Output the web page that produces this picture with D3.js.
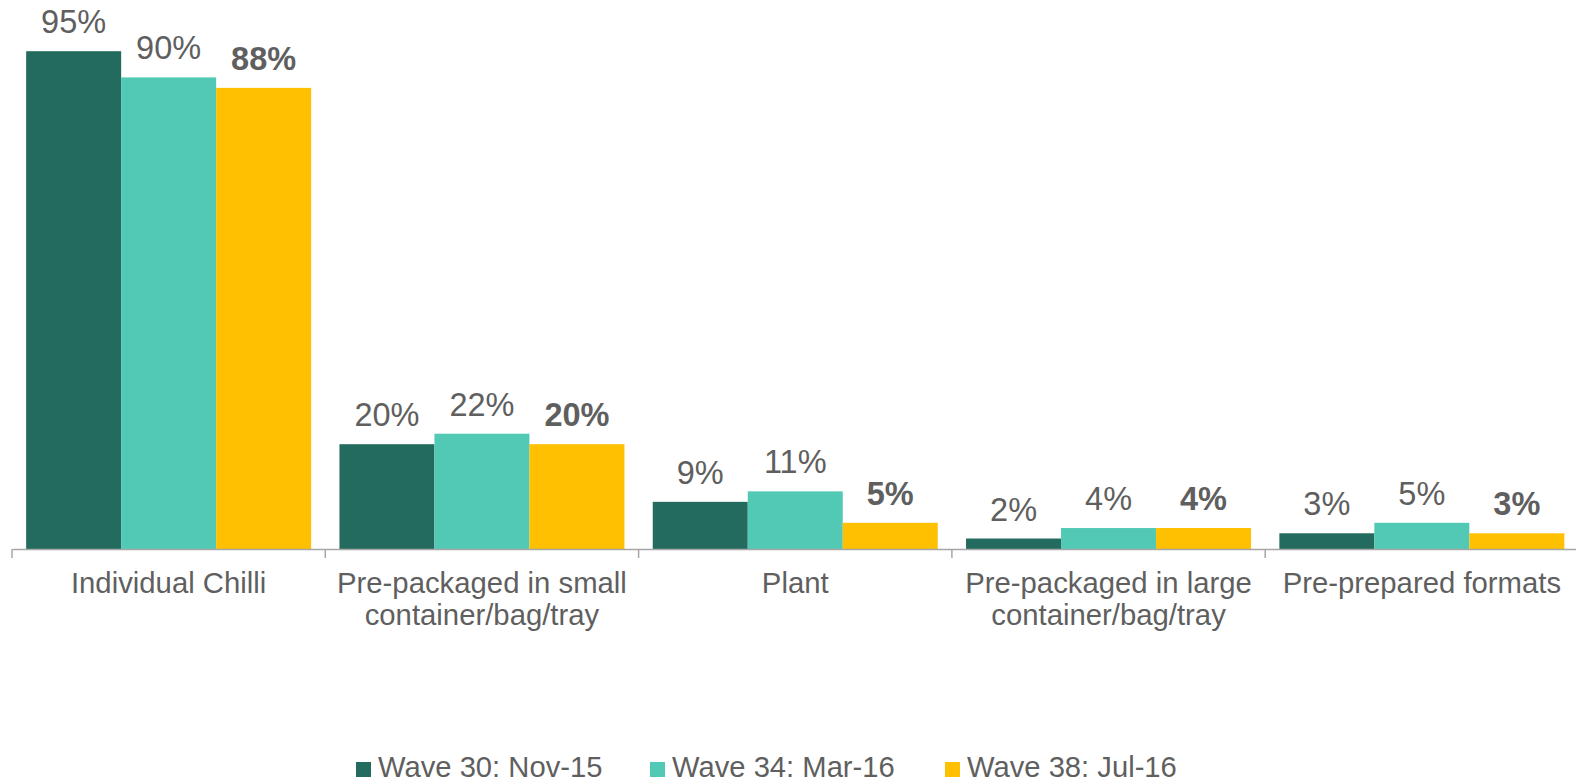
<!DOCTYPE html>
<html>
<head>
<meta charset="utf-8">
<script src="https://cdn.jsdelivr.net/npm/d3@7"></script>
<style>
  html, body { margin: 0; padding: 0; background: #fff; }
  svg { display: block; font-family: "Liberation Sans", Arial, sans-serif; }
</style>
</head>
<body>
<svg id="chart" width="1576" height="783"></svg>
<script>
// Purchase formats of chillies, by survey wave (% of buyers)
const categories = [
  ["Individual Chilli"],
  ["Pre-packaged in small", "container/bag/tray"],
  ["Plant"],
  ["Pre-packaged in large", "container/bag/tray"],
  ["Pre-prepared formats"]
];
const seriesNames = ["Wave 30: Nov-15", "Wave 34: Mar-16", "Wave 38: Jul-16"];
const wave30 = [95, 20, 9, 2, 3];
const wave34 = [90, 22, 11, 4, 5];
const wave38 = [88, 20, 5, 4, 3];
const seriesColors = ["#236b5e", "#52c9b4", "#fec000"];
const boldSeries = [false, false, true];

const seriesValues = [wave30, wave34, wave38];
const catKeys = categories.map(c => c.join(" "));

const svg = d3.select("#chart");
const textColor = "#5f5f5f";
const axisColor = "#a6a6a6";

const baseY = 549;
const x0 = d3.scaleBand().domain(catKeys).range([12, 1578.5]).paddingInner(0).paddingOuter(0);
const x1 = d3.scaleBand().domain(d3.range(seriesNames.length)).range([0, x0.bandwidth()])
  .paddingInner(0).paddingOuter(0.149);
const y = d3.scaleLinear().domain([0, 100]).range([baseY, 25]);

// Bars with value labels
const groups = svg.append("g").selectAll("g")
  .data(catKeys)
  .join("g")
  .attr("transform", d => `translate(${x0(d)},0)`);

groups.each(function(cat, ci) {
  const g = d3.select(this);
  seriesValues.forEach((vals, si) => {
    const v = vals[ci];
    g.append("rect")
      .attr("x", x1(si))
      .attr("y", y(v))
      .attr("width", x1.bandwidth())
      .attr("height", baseY - y(v))
      .attr("fill", seriesColors[si]);
    g.append("text")
      .attr("x", x1(si) + x1.bandwidth() / 2)
      .attr("y", y(v) - 18)
      .attr("text-anchor", "middle")
      .attr("font-size", 32.5)
      .attr("font-weight", boldSeries[si] ? "bold" : "normal")
      .attr("fill", textColor)
      .text(v + "%");
  });
});

// Category axis with ticks between groups
const axis = d3.axisBottom(x0).tickSize(0).tickFormat("");
const axisG = svg.append("g").attr("transform", `translate(0,${baseY})`).call(axis);
axisG.select(".domain").attr("stroke", axisColor).attr("stroke-width", 1.5);
const bounds = catKeys.map(c => x0(c)).concat([x0.range()[1]]);
axisG.selectAll("line.sep")
  .data(bounds)
  .join("line")
  .attr("class", "sep")
  .attr("x1", d => d).attr("x2", d => d)
  .attr("y1", 0).attr("y2", 9)
  .attr("stroke", axisColor)
  .attr("stroke-width", 1.5);

// Category labels (wrapped into lines)
const labelG = svg.append("g");
categories.forEach((lines, ci) => {
  const cx = x0(catKeys[ci]) + x0.bandwidth() / 2;
  const t = labelG.append("text")
    .attr("text-anchor", "middle")
    .attr("font-size", 29.3)
    .attr("fill", textColor);
  lines.forEach((ln, li) => {
    t.append("tspan").attr("x", cx).attr("y", 593 + li * 32).text(ln);
  });
});

// Legend
const legendX = [356, 650, 945];
const legend = svg.append("g");
seriesNames.forEach((name, si) => {
  legend.append("rect")
    .attr("x", legendX[si]).attr("y", 762)
    .attr("width", 15).attr("height", 15)
    .attr("fill", seriesColors[si]);
  legend.append("text")
    .attr("x", legendX[si] + 22).attr("y", 777)
    .attr("font-size", 29.2)
    .attr("fill", textColor)
    .text(name);
});
</script>
</body>
</html>
